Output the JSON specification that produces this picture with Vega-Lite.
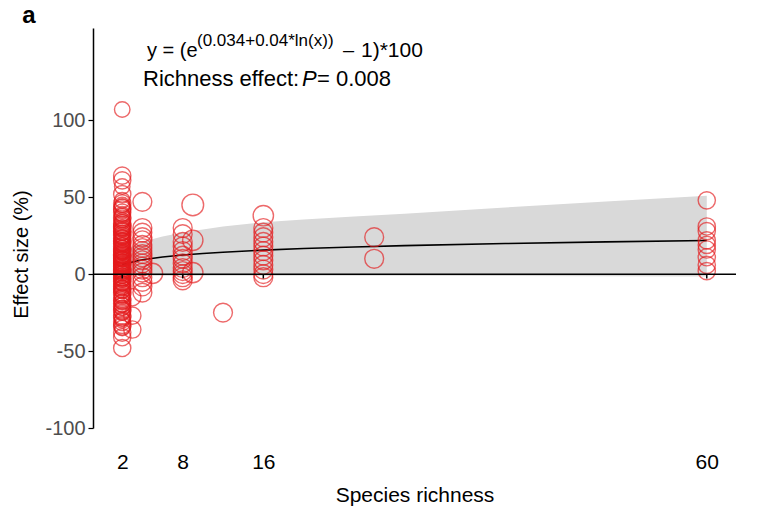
{
  "$schema": "https://vega.github.io/schema/vega-lite/v6.json",
  "width": 643,
  "height": 400,
  "autosize": {"type": "none"},
  "padding": {"left": 93, "top": 28, "right": 23, "bottom": 90},
  "config": {
    "view": {"stroke": null},
    "font": "Liberation Sans",
    "axis": {"grid": false}
  },
  "datasets": {
    "pts": [
      {"richness": 2, "effect": 107, "weight": 1},
      {"richness": 2, "effect": 64, "weight": 2},
      {"richness": 2, "effect": 61, "weight": 2},
      {"richness": 2, "effect": 57, "weight": 1},
      {"richness": 2, "effect": 52, "weight": 2},
      {"richness": 2, "effect": 48, "weight": 1},
      {"richness": 2, "effect": 46, "weight": 2},
      {"richness": 2, "effect": 44, "weight": 1},
      {"richness": 2, "effect": 42, "weight": 2},
      {"richness": 2, "effect": 40, "weight": 2},
      {"richness": 2, "effect": 38, "weight": 1},
      {"richness": 2, "effect": 36, "weight": 2},
      {"richness": 2, "effect": 35, "weight": 1},
      {"richness": 2, "effect": 33, "weight": 2},
      {"richness": 2, "effect": 31, "weight": 2},
      {"richness": 2, "effect": 30, "weight": 1},
      {"richness": 2, "effect": 28, "weight": 2},
      {"richness": 2, "effect": 27, "weight": 1},
      {"richness": 2, "effect": 26, "weight": 2},
      {"richness": 2, "effect": 25, "weight": 2},
      {"richness": 2, "effect": 24, "weight": 1},
      {"richness": 2, "effect": 23, "weight": 2},
      {"richness": 2, "effect": 22, "weight": 1},
      {"richness": 2, "effect": 21, "weight": 2},
      {"richness": 2, "effect": 20, "weight": 2},
      {"richness": 2, "effect": 19, "weight": 1},
      {"richness": 2, "effect": 18, "weight": 2},
      {"richness": 2, "effect": 17, "weight": 1},
      {"richness": 2, "effect": 16, "weight": 2},
      {"richness": 2, "effect": 15, "weight": 2},
      {"richness": 2, "effect": 14, "weight": 1},
      {"richness": 2, "effect": 13, "weight": 2},
      {"richness": 2, "effect": 12, "weight": 1},
      {"richness": 2, "effect": 11, "weight": 2},
      {"richness": 2, "effect": 10, "weight": 2},
      {"richness": 2, "effect": 9.5, "weight": 1},
      {"richness": 2, "effect": 9, "weight": 2},
      {"richness": 2, "effect": 8, "weight": 1},
      {"richness": 2, "effect": 7, "weight": 2},
      {"richness": 2, "effect": 6.5, "weight": 1},
      {"richness": 2, "effect": 6, "weight": 2},
      {"richness": 2, "effect": 5, "weight": 2},
      {"richness": 2, "effect": 4, "weight": 1},
      {"richness": 2, "effect": 3.5, "weight": 2},
      {"richness": 2, "effect": 3, "weight": 1},
      {"richness": 2, "effect": 2, "weight": 2},
      {"richness": 2, "effect": 1, "weight": 2},
      {"richness": 2, "effect": 0.5, "weight": 1},
      {"richness": 2, "effect": 0, "weight": 2},
      {"richness": 2, "effect": -1, "weight": 1},
      {"richness": 2, "effect": -2, "weight": 2},
      {"richness": 2, "effect": -3, "weight": 2},
      {"richness": 2, "effect": -4, "weight": 1},
      {"richness": 2, "effect": -5, "weight": 2},
      {"richness": 2, "effect": -6, "weight": 1},
      {"richness": 2, "effect": -7, "weight": 2},
      {"richness": 2, "effect": -8, "weight": 2},
      {"richness": 2, "effect": -9, "weight": 1},
      {"richness": 2, "effect": -10, "weight": 2},
      {"richness": 2, "effect": -11, "weight": 1},
      {"richness": 2, "effect": -12, "weight": 2},
      {"richness": 2, "effect": -13, "weight": 2},
      {"richness": 2, "effect": -15, "weight": 1},
      {"richness": 2, "effect": -16, "weight": 2},
      {"richness": 2, "effect": -18, "weight": 1},
      {"richness": 2, "effect": -19, "weight": 2},
      {"richness": 2, "effect": -21, "weight": 2},
      {"richness": 2, "effect": -22, "weight": 1},
      {"richness": 2, "effect": -24, "weight": 2},
      {"richness": 2, "effect": -25, "weight": 1},
      {"richness": 2, "effect": -27, "weight": 2},
      {"richness": 2, "effect": -28, "weight": 2},
      {"richness": 2, "effect": -30, "weight": 1},
      {"richness": 2, "effect": -31, "weight": 2},
      {"richness": 2, "effect": -33, "weight": 2},
      {"richness": 2, "effect": -35, "weight": 1},
      {"richness": 2, "effect": -38, "weight": 2},
      {"richness": 2, "effect": -41, "weight": 2},
      {"richness": 2, "effect": -48, "weight": 2},
      {"richness": 2, "effect": 20, "weight": 1},
      {"richness": 2, "effect": 15, "weight": 1},
      {"richness": 2, "effect": 10, "weight": 1},
      {"richness": 2, "effect": 5, "weight": 1},
      {"richness": 2, "effect": 8, "weight": 2},
      {"richness": 2, "effect": 12, "weight": 2},
      {"richness": 2, "effect": 3, "weight": 2},
      {"richness": 2, "effect": -3, "weight": 1},
      {"richness": 2, "effect": 25, "weight": 1},
      {"richness": 2, "effect": 30, "weight": 2},
      {"richness": 2, "effect": 37, "weight": 2},
      {"richness": 2, "effect": 34, "weight": 1},
      {"richness": 2, "effect": 32, "weight": 2},
      {"richness": 2, "effect": 29, "weight": 1},
      {"richness": 2, "effect": 27.5, "weight": 2},
      {"richness": 2, "effect": 23.5, "weight": 1},
      {"richness": 2, "effect": 21.5, "weight": 2},
      {"richness": 2, "effect": 18.5, "weight": 1},
      {"richness": 2, "effect": 16.5, "weight": 2},
      {"richness": 2, "effect": 14.5, "weight": 1},
      {"richness": 2, "effect": 12.5, "weight": 2},
      {"richness": 2, "effect": 10.5, "weight": 1},
      {"richness": 2, "effect": 7.5, "weight": 2},
      {"richness": 2, "effect": 5.5, "weight": 1},
      {"richness": 2, "effect": 2.5, "weight": 2},
      {"richness": 2, "effect": 1.5, "weight": 1},
      {"richness": 2, "effect": -0.5, "weight": 2},
      {"richness": 2, "effect": -2.5, "weight": 1},
      {"richness": 2, "effect": -4.5, "weight": 2},
      {"richness": 2, "effect": -6.5, "weight": 1},
      {"richness": 2, "effect": -9.5, "weight": 2},
      {"richness": 2, "effect": -14, "weight": 1},
      {"richness": 2, "effect": -17, "weight": 2},
      {"richness": 2, "effect": -20, "weight": 1},
      {"richness": 2, "effect": -23, "weight": 2},
      {"richness": 2, "effect": -29, "weight": 1},
      {"richness": 2, "effect": -34, "weight": 2},
      {"richness": 2, "effect": 39, "weight": 1},
      {"richness": 2, "effect": 43, "weight": 2},
      {"richness": 2, "effect": 45, "weight": 1},
      {"richness": 3, "effect": -27, "weight": 2},
      {"richness": 3, "effect": -36, "weight": 2},
      {"richness": 3, "effect": -15, "weight": 2},
      {"richness": 4, "effect": 47, "weight": 3},
      {"richness": 4, "effect": 30, "weight": 3},
      {"richness": 4, "effect": 27, "weight": 3},
      {"richness": 4, "effect": 24, "weight": 3},
      {"richness": 4, "effect": 22, "weight": 3},
      {"richness": 4, "effect": 19, "weight": 3},
      {"richness": 4, "effect": 17, "weight": 3},
      {"richness": 4, "effect": 15, "weight": 3},
      {"richness": 4, "effect": 13, "weight": 3},
      {"richness": 4, "effect": 11, "weight": 3},
      {"richness": 4, "effect": 9, "weight": 3},
      {"richness": 4, "effect": 7, "weight": 3},
      {"richness": 4, "effect": 5, "weight": 3},
      {"richness": 4, "effect": 3, "weight": 3},
      {"richness": 4, "effect": 1, "weight": 3},
      {"richness": 4, "effect": -2, "weight": 3},
      {"richness": 4, "effect": -5, "weight": 3},
      {"richness": 4, "effect": -8, "weight": 3},
      {"richness": 4, "effect": -12, "weight": 3},
      {"richness": 5, "effect": 0.5, "weight": 4},
      {"richness": 8, "effect": 30, "weight": 3},
      {"richness": 8, "effect": 26, "weight": 3},
      {"richness": 8, "effect": 21, "weight": 3},
      {"richness": 8, "effect": 18, "weight": 3},
      {"richness": 8, "effect": 15, "weight": 3},
      {"richness": 8, "effect": 12, "weight": 3},
      {"richness": 8, "effect": 10, "weight": 3},
      {"richness": 8, "effect": 7, "weight": 3},
      {"richness": 8, "effect": 4, "weight": 3},
      {"richness": 8, "effect": 2, "weight": 3},
      {"richness": 8, "effect": 0, "weight": 3},
      {"richness": 8, "effect": -2, "weight": 3},
      {"richness": 8, "effect": -4, "weight": 3},
      {"richness": 9, "effect": 45, "weight": 5},
      {"richness": 9, "effect": 22, "weight": 4},
      {"richness": 9, "effect": 1, "weight": 4},
      {"richness": 12, "effect": -25, "weight": 3},
      {"richness": 16, "effect": 38, "weight": 4},
      {"richness": 16, "effect": 30, "weight": 3},
      {"richness": 16, "effect": 27, "weight": 3},
      {"richness": 16, "effect": 24, "weight": 3},
      {"richness": 16, "effect": 21, "weight": 3},
      {"richness": 16, "effect": 18, "weight": 3},
      {"richness": 16, "effect": 15, "weight": 3},
      {"richness": 16, "effect": 12, "weight": 3},
      {"richness": 16, "effect": 9, "weight": 3},
      {"richness": 16, "effect": 6, "weight": 3},
      {"richness": 16, "effect": 3, "weight": 3},
      {"richness": 16, "effect": 0, "weight": 3},
      {"richness": 16, "effect": -2, "weight": 3},
      {"richness": 27, "effect": 24, "weight": 3},
      {"richness": 27, "effect": 10, "weight": 3},
      {"richness": 60, "effect": 48, "weight": 2},
      {"richness": 60, "effect": 31, "weight": 2},
      {"richness": 60, "effect": 28, "weight": 2},
      {"richness": 60, "effect": 22, "weight": 2},
      {"richness": 60, "effect": 19, "weight": 2},
      {"richness": 60, "effect": 16, "weight": 2},
      {"richness": 60, "effect": 11, "weight": 2},
      {"richness": 60, "effect": 6, "weight": 2},
      {"richness": 60, "effect": 2, "weight": 2}
    ],
    "fit": [
      {"richness": 2, "fit": 6.37, "lower": -1, "upper": 15},
      {"richness": 4, "fit": 9.36, "lower": -1, "upper": 21},
      {"richness": 6, "fit": 11.15, "lower": -1, "upper": 24.5},
      {"richness": 8, "fit": 12.43, "lower": -1, "upper": 27},
      {"richness": 10, "fit": 13.44, "lower": -1, "upper": 29},
      {"richness": 12, "fit": 14.27, "lower": -1, "upper": 31},
      {"richness": 16, "fit": 15.59, "lower": -1, "upper": 33.8},
      {"richness": 20, "fit": 16.63, "lower": -1, "upper": 35.5},
      {"richness": 25, "fit": 17.68, "lower": -1, "upper": 37.4},
      {"richness": 30, "fit": 18.54, "lower": -1, "upper": 39.3},
      {"richness": 40, "fit": 19.91, "lower": -1.2, "upper": 43.3},
      {"richness": 50, "fit": 20.98, "lower": -1.4, "upper": 47.3},
      {"richness": 60, "fit": 21.87, "lower": -1.5, "upper": 51}
    ],
    "ticks": [
      {"richness": 2}, {"richness": 8}, {"richness": 16}, {"richness": 60}
    ]
  },
  "encoding": {
    "x": {
      "type": "quantitative",
      "scale": {"domain": [-0.9, 62.9], "nice": false, "zero": false},
      "axis": {
        "values": [2, 8, 16, 60], "domain": false, "ticks": false,
        "labelFontSize": 21, "labelColor": "#000000", "labelPadding": 23,
        "title": "Species richness", "titleFontSize": 21, "titleFontWeight": "normal",
        "titleColor": "#000000", "titlePadding": 12
      }
    },
    "y": {
      "type": "quantitative",
      "scale": {"domain": [-100, 160], "nice": false, "zero": false},
      "axis": {
        "values": [-100, -50, 0, 50, 100], "domainColor": "#000000", "domainWidth": 1.5,
        "tickColor": "#000000", "tickSize": 5, "tickWidth": 1.2,
        "labelFontSize": 20, "labelColor": "#4d4d4d", "labelPadding": 3,
        "labelExpr": "datum.value < 0 ? '-' + abs(datum.value) : '' + datum.value",
        "title": "Effect size (%)", "titleFontSize": 20, "titleFontWeight": "normal",
        "titleColor": "#000000", "titleX": -62, "titleY": 226
      }
    }
  },
  "layer": [
    {
      "data": {"name": "fit"},
      "mark": {"type": "area", "color": "#d9d9d9", "opacity": 1},
      "encoding": {"x": {"field": "richness"}, "y": {"field": "upper"}, "y2": {"field": "lower"}}
    },
    {
      "data": {"name": "fit"},
      "mark": {"type": "line", "color": "#000000", "strokeWidth": 1.6},
      "encoding": {"x": {"field": "richness"}, "y": {"field": "fit"}}
    },
    {
      "data": {"name": "pts"},
      "mark": {"type": "point", "shape": "circle", "filled": false, "color": "#e41a1c", "strokeWidth": 1.4, "opacity": 0.65},
      "encoding": {
        "x": {"field": "richness"},
        "y": {"field": "effect"},
        "size": {"field": "weight", "type": "quantitative", "scale": {"domain": [1, 5], "range": [240, 470]}, "legend": null}
      }
    },
    {
      "data": {"values": [{}]},
      "mark": {"type": "rule", "color": "#000000", "strokeWidth": 1.5},
      "encoding": {"y": {"datum": 0}}
    },
    {
      "data": {"name": "ticks"},
      "mark": {"type": "rule", "color": "#000000", "strokeWidth": 1.5},
      "encoding": {"x": {"field": "richness"}, "y": {"datum": 0}, "y2": {"datum": -2.8}}
    },
    {
      "data": {"values": [{}]},
      "mark": {"type": "text", "text": "y = (e", "fontSize": 20, "align": "left", "baseline": "alphabetic"},
      "encoding": {"x": {"datum": 4.46}, "y": {"datum": 140.9}}
    },
    {
      "data": {"values": [{}]},
      "mark": {"type": "text", "text": "(0.034+0.04*ln(x))", "fontSize": 17, "align": "left", "baseline": "alphabetic"},
      "encoding": {"x": {"datum": 9.42}, "y": {"datum": 148.5}}
    },
    {
      "data": {"values": [{}]},
      "mark": {"type": "text", "text": "\u2013", "fontSize": 20, "align": "left", "baseline": "alphabetic"},
      "encoding": {"x": {"datum": 23.9}, "y": {"datum": 140.9}}
    },
    {
      "data": {"values": [{}]},
      "mark": {"type": "text", "text": "1)*100", "fontSize": 21, "align": "left", "baseline": "alphabetic"},
      "encoding": {"x": {"datum": 25.69}, "y": {"datum": 140.9}}
    },
    {
      "data": {"values": [{}]},
      "mark": {"type": "text", "text": "Richness effect:", "fontSize": 22, "align": "left", "baseline": "alphabetic"},
      "encoding": {"x": {"datum": 4.06}, "y": {"datum": 122.1}}
    },
    {
      "data": {"values": [{}]},
      "mark": {"type": "text", "text": "P", "fontSize": 22, "fontStyle": "italic", "align": "left", "baseline": "alphabetic"},
      "encoding": {"x": {"datum": 19.84}, "y": {"datum": 122.1}}
    },
    {
      "data": {"values": [{}]},
      "mark": {"type": "text", "text": "= 0.008", "fontSize": 22, "align": "left", "baseline": "alphabetic"},
      "encoding": {"x": {"datum": 21.33}, "y": {"datum": 122.1}}
    },
    {
      "data": {"values": [{}]},
      "mark": {"type": "text", "text": "a", "fontSize": 24, "fontWeight": "bold", "align": "left", "baseline": "alphabetic"},
      "encoding": {"x": {"datum": -7.93}, "y": {"datum": 163}}
    }
  ]
}
